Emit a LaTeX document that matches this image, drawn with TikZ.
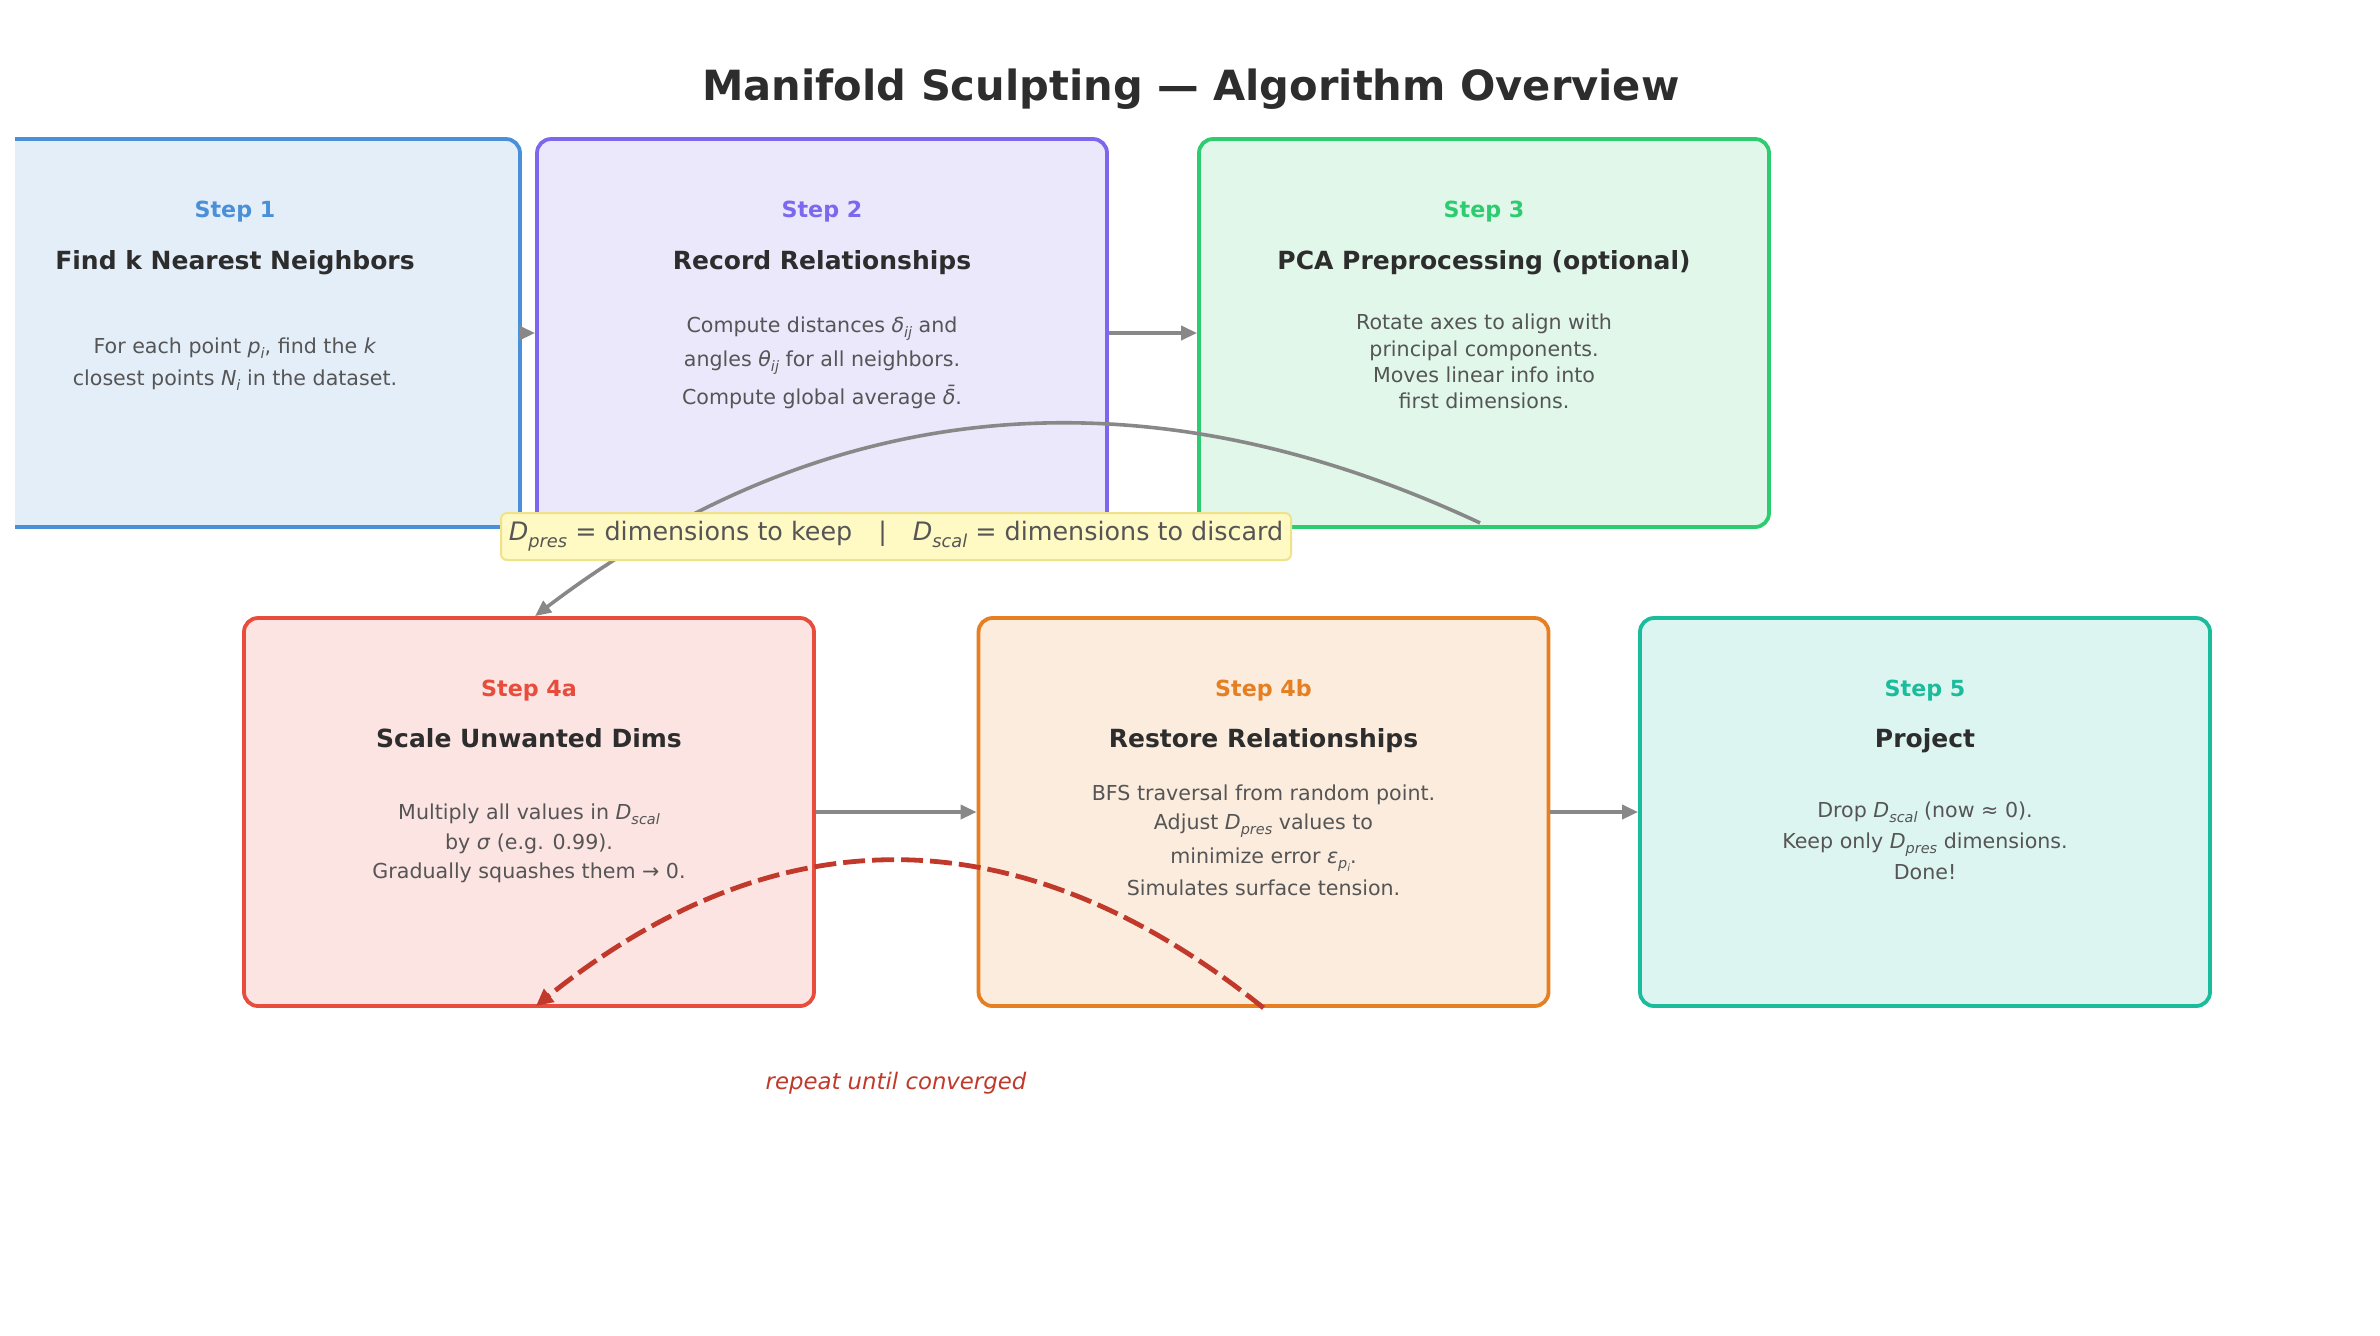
\documentclass[tikz,border=0pt]{standalone}
\usepackage{fontspec}
\setmainfont{DejaVu Sans}
\usepackage{graphicx}
\usetikzlibrary{arrows.meta,calc}
\definecolor{cblue}{HTML}{4A90D9}
\definecolor{cpurple}{HTML}{7B68EE}
\definecolor{cgreen}{HTML}{2ECC71}
\definecolor{cred}{HTML}{E74C3C}
\definecolor{corange}{HTML}{E67E22}
\definecolor{cteal}{HTML}{1ABC9C}
\definecolor{cdarkred}{HTML}{C0392B}
\definecolor{cgray}{HTML}{888888}
\definecolor{ctitle}{HTML}{2D2D2D}
\definecolor{cbody}{HTML}{555555}
\definecolor{cyfill}{HTML}{FFF9C4}
\definecolor{cyborder}{HTML}{F0E28A}
\newcommand\mv[1]{\textit{#1}}
\newcommand\sbs[1]{\raisebox{-0.28em}{\scalebox{0.7}{\itshape #1}}}
\tikzset{
  stepbox/.style={draw=#1, fill=#1!15!white, line width=1.9pt, rounded corners=7pt,
    minimum width=285pt, minimum height=194pt, inner sep=0pt},
  steplbl/.style={text=#1, font=\fontsize{11.1}{13}\selectfont\bfseries, anchor=base},
  ttl/.style={text=ctitle, font=\fontsize{12.5}{15}\selectfont\bfseries, anchor=base},
  body/.style={text=cbody, font=\fontsize{10.3}{12}\selectfont, anchor=base, inner sep=0pt},
  flow/.style={draw=cgray, line width=1.8pt, -{Triangle[length=8pt,width=7pt]}},
  repeatarrow/.style={draw=cdarkred, line width=2.4pt, dash pattern=on 11pt off 3.5pt,
    -{Triangle[length=8.5pt,width=8pt]}},
}
\begin{document}
\begin{tikzpicture}[x=0.5pt, y=-0.5pt]
\useasboundingbox (0,0) rectangle (2380,1335);

\node[font=\fontsize{20.8}{25}\selectfont\bfseries, text=ctitle, anchor=base] (title) at (1191,100) {Manifold Sculpting — Algorithm Overview};

% ---- Step 1 (clipped on the left)
\begin{scope}
\clip (15,0) rectangle (2380,1335);
\node[stepbox=cblue] (b1) at (235,333) {};
\end{scope}
\node[steplbl=cblue] (s1) at (235,217) {Step 1};
\node[ttl] (t1) at (235,269) {Find k Nearest Neighbors};
\node[body] (d1a) at (235,353) {For each point \mv{p}\sbs{i}, find the \mv{k}};
\node[body] (d1b) at (235,385) {closest points \mv{N}\sbs{i} in the dataset.};

% ---- Step 2
\node[stepbox=cpurple] (b2) at (822,333) {};
\node[steplbl=cpurple] (s2) at (822,217) {Step 2};
\node[ttl] (t2) at (822,269) {Record Relationships};
\node[body] (d2a) at (822,332) {Compute distances \mv{δ}\sbs{ij} and};
\node[body] (d2b) at (822,366) {angles \mv{θ}\sbs{ij} for all neighbors.};
\node[body] (d2c) at (822,404) {Compute global average \mv{δ̄}.};

% ---- Step 3
\node[stepbox=cgreen] (b3) at (1484,333) {};
\node[steplbl=cgreen] (s3) at (1484,217) {Step 3};
\node[ttl] (t3) at (1484,269) {PCA Preprocessing (optional)};
\node[body] (d3a) at (1484,329) {Rotate axes to align with};
\node[body] (d3b) at (1484,356) {principal components.};
\node[body] (d3c) at (1484,382) {Moves linear info into};
\node[body] (d3d) at (1484,408) {first dimensions.};

% ---- Step 4a
\node[stepbox=cred] (b4a) at (529,812) {};
\node[steplbl=cred] (s4a) at (529,696) {Step 4a};
\node[ttl] (t4a) at (529,747) {Scale Unwanted Dims};
\node[body] (d4aa) at (529,819) {Multiply all values in \mv{D}\sbs{scal}};
\node[body] (d4ab) at (529,849) {by \mv{σ} (e.g. 0.99).};
\node[body] (d4ac) at (529,878) {Gradually squashes them → 0.};

% ---- Step 4b
\node[stepbox=corange] (b4b) at (1263.5,812) {};
\node[steplbl=corange] (s4b) at (1263.5,696) {Step 4b};
\node[ttl] (t4b) at (1263.5,747) {Restore Relationships};
\node[body] (d4ba) at (1263.5,800) {BFS traversal from random point.};
\node[body] (d4bb) at (1263.5,829) {Adjust \mv{D}\sbs{pres} values to};
\node[body] (d4bc) at (1263.5,863) {minimize error \mv{ε}\sbs{p\raisebox{-0.2em}{\scalebox{0.7}{i}}}.};
\node[body] (d4bd) at (1263.5,895) {Simulates surface tension.};

% ---- Step 5
\node[stepbox=cteal] (b5) at (1925,812) {};
\node[steplbl=cteal] (s5) at (1925,696) {Step 5};
\node[ttl] (t5) at (1925,747) {Project};
\node[body] (d5a) at (1925,817) {Drop \mv{D}\sbs{scal} (now ≈ 0).};
\node[body] (d5b) at (1925,848) {Keep only \mv{D}\sbs{pres} dimensions.};
\node[body] (d5c) at (1925,879) {Done!};

% ---- connectors
\draw[flow] (b1.east) -- (b2.west);
\draw[flow] (b2.east) -- (b3.west);
\draw[flow] (b4a.east) -- (b4b.west);
\draw[flow] (b4b.east) -- (b5.west);

% quadratic curves written as cubic ones
\coordinate (g0) at ([xshift=-2pt,yshift=3pt]b3.south);
\coordinate (gc) at (971,285);
\coordinate (g1) at ([xshift=3pt]b4a.north);
\draw[flow] (g0) .. controls ($(g0)!0.6667!(gc)$) and ($(g1)!0.6667!(gc)$) .. (g1);

\node[draw=cyborder, fill=cyfill, line width=1pt, rounded corners=3pt,
  minimum width=395pt, minimum height=23.5pt, inner sep=0pt, text=cbody,
  font=\fontsize{12.7}{15}\selectfont] (legend) at (896,536.5)
  {\raisebox{-1.2pt}{\mv{D}\sbs{pres} = dimensions to keep\hspace{13pt}|\hspace{13pt}\mv{D}\sbs{scal} = dimensions to discard}};

\coordinate (r0) at (b4b.south);
\coordinate (rc) at (899,715);
\coordinate (r1) at ([xshift=3.5pt,yshift=1pt]b4a.south);
\draw[repeatarrow] (r0) .. controls ($(r0)!0.6667!(rc)$) and ($(r1)!0.6667!(rc)$) .. (r1);

\node[text=cdarkred, font=\fontsize{11.4}{14}\selectfont\itshape, anchor=base] (rep) at (896,1089) {repeat until converged};
\end{tikzpicture}
\end{document}
